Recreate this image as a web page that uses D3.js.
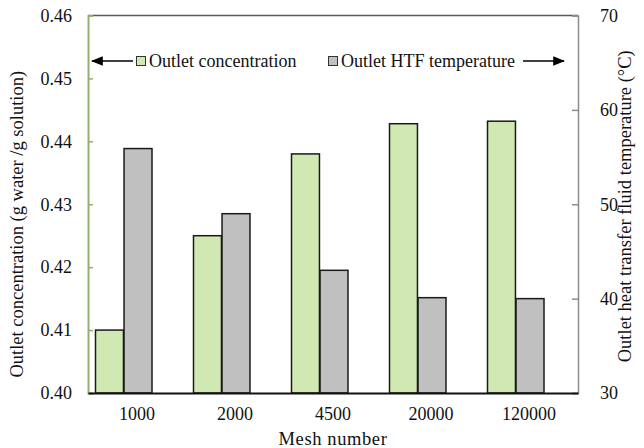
<!DOCTYPE html>
<html>
<head>
<meta charset="utf-8">
<script src="https://cdn.jsdelivr.net/npm/d3@7"></script>
<style>
  body { margin: 0; background: #fff; }
  svg text { font-family: 'Liberation Serif', 'Times New Roman', serif; fill: #111; }
</style>
</head>
<body>
<svg width="644" height="448"></svg>
<script>
var meshes = ["1000", "2000", "4500", "20000", "120000"];
var concentration = [0.410, 0.425, 0.438, 0.4428, 0.4432];
var htfTemperature = [55.9, 49.0, 43.0, 40.1, 40.0];
var concTicks = [0.40, 0.41, 0.42, 0.43, 0.44, 0.45, 0.46];
var tempTicks = [30, 40, 50, 60, 70];

var serif = "'Liberation Serif', 'Times New Roman', serif";

var svg = d3.select("svg"),
    margin = {top: 15.5, right: 66, bottom: 55, left: 88},
    width = 644 - margin.left - margin.right,
    height = 448 - margin.top - margin.bottom;

var g = svg.append("g").attr("transform", "translate(" + margin.left + "," + margin.top + ")");

var x = d3.scaleBand().domain(meshes).range([0, width]);
// two bars sit in the left part of each slot
var xInner = d3.scaleBand().domain(["conc", "temp"]).range([7.5, 64]).paddingInner(0.02);
var yL = d3.scaleLinear().domain([0.40, 0.46]).range([height, 0]);
var yR = d3.scaleLinear().domain([30, 70]).range([height, 0]);

// top frame line
g.append("line").attr("x1", 0).attr("x2", width).attr("y1", 0).attr("y2", 0)
    .attr("stroke", "#595959").attr("stroke-width", 1.5);

// bars
var slots = g.selectAll(".slot").data(meshes).enter().append("g")
    .attr("transform", function(d) { return "translate(" + x(d) + ",0)"; });

slots.append("rect")
    .attr("x", xInner("conc"))
    .attr("width", xInner.bandwidth())
    .attr("y", function(d, i) { return yL(concentration[i]); })
    .attr("height", function(d, i) { return height - yL(concentration[i]); })
    .attr("fill", "#d0e9b2").attr("stroke", "#1a1a1a").attr("stroke-width", 1.5);

slots.append("rect")
    .attr("x", xInner("temp"))
    .attr("width", xInner.bandwidth())
    .attr("y", function(d, i) { return yR(htfTemperature[i]); })
    .attr("height", function(d, i) { return height - yR(htfTemperature[i]); })
    .attr("fill", "#c0c0c0").attr("stroke", "#1a1a1a").attr("stroke-width", 1.5);

// left axis (green)
var left = g.append("g")
    .call(d3.axisLeft(yL).tickValues(concTicks).tickFormat(d3.format(".2f")).tickSize(-5).tickPadding(16))
    .attr("font-family", serif).attr("font-size", 18);
left.select(".domain").attr("stroke", "#8fb070").attr("stroke-width", 2);
left.selectAll(".tick line").attr("stroke", "#8fb070").attr("stroke-width", 1.5);
left.selectAll(".tick text").attr("fill", "#111");

// right axis (gray)
var right = g.append("g").attr("transform", "translate(" + width + ",0)")
    .call(d3.axisRight(yR).tickValues(tempTicks).tickSize(-6).tickPadding(22))
    .attr("font-family", serif).attr("font-size", 18);
right.select(".domain").attr("stroke", "#8c8c8c").attr("stroke-width", 1.5);
right.selectAll(".tick line").attr("stroke", "#8c8c8c").attr("stroke-width", 1.5);
right.selectAll(".tick text").attr("fill", "#111");

// bottom axis
var bottom = g.append("g").attr("transform", "translate(0," + height + ")")
    .call(d3.axisBottom(x).tickSize(0).tickPadding(14))
    .attr("font-family", serif).attr("font-size", 18);
bottom.select(".domain").attr("stroke", "#111").attr("stroke-width", 2);
bottom.selectAll(".tick text").attr("fill", "#111");

// axis titles
svg.append("text").attr("x", 333).attr("y", 445).attr("text-anchor", "middle")
    .style("font-size", "18.5px").style("letter-spacing", "0.6px").text("Mesh number");
svg.append("text").attr("transform", "translate(23," + (margin.top + height / 2 + 20) + ") rotate(-90)")
    .attr("text-anchor", "middle").style("font-size", "18.5px")
    .text("Outlet concentration (g water /g solution)");
svg.append("text").attr("transform", "translate(631," + (margin.top + height / 2 + 2) + ") rotate(-90)")
    .attr("text-anchor", "middle").style("font-size", "18.5px")
    .text("Outlet heat transfer fluid temperature (\u00B0C)");

// legend with arrows
var defs = svg.append("defs");
defs.append("marker").attr("id", "arrow").attr("viewBox", "0 0 10 10")
    .attr("refX", 9).attr("refY", 5).attr("markerWidth", 8).attr("markerHeight", 8)
    .attr("orient", "auto-start-reverse")
    .append("path").attr("d", "M0,1 L10,5 L0,9 Z").attr("fill", "#000");

var ly = 61;
svg.append("line").attr("x1", 133).attr("x2", 92).attr("y1", ly).attr("y2", ly)
    .attr("stroke", "#000").attr("stroke-width", 1.5).attr("marker-end", "url(#arrow)");
svg.append("rect").attr("x", 136.5).attr("y", ly - 4.5).attr("width", 9).attr("height", 9)
    .attr("fill", "#d0e9b2").attr("stroke", "#333");
svg.append("text").attr("x", 149).attr("y", ly + 6).style("font-size", "18px").text("Outlet concentration");
svg.append("rect").attr("x", 328.5).attr("y", ly - 4.5).attr("width", 9).attr("height", 9)
    .attr("fill", "#c0c0c0").attr("stroke", "#333");
svg.append("text").attr("x", 341).attr("y", ly + 6).style("font-size", "18px").text("Outlet HTF temperature");
svg.append("line").attr("x1", 523).attr("x2", 564).attr("y1", ly).attr("y2", ly)
    .attr("stroke", "#000").attr("stroke-width", 1.5).attr("marker-end", "url(#arrow)");
</script>
</body>
</html>
